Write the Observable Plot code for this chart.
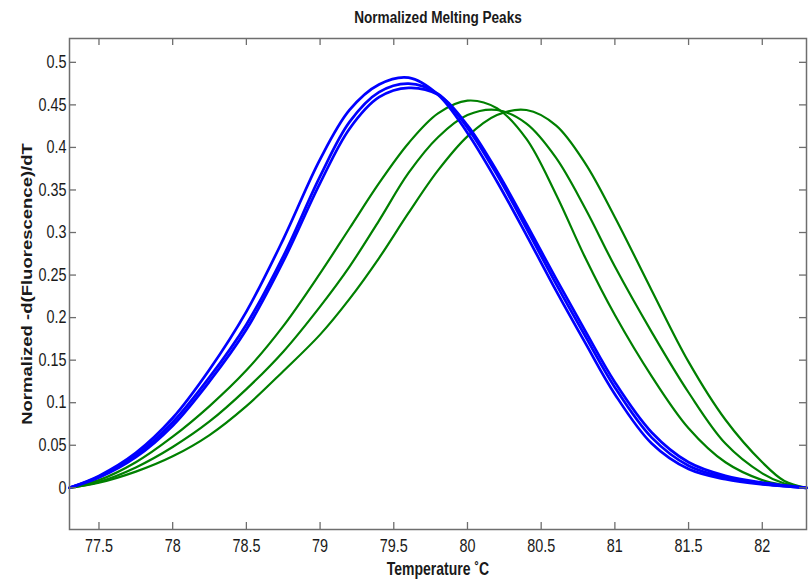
<!DOCTYPE html>
<html>
<head>
<meta charset="utf-8">
<script src="https://cdn.jsdelivr.net/npm/d3@7"></script>
<script src="https://cdn.jsdelivr.net/npm/@observablehq/plot@0.6"></script>
<style>
  html, body { margin: 0; padding: 0; background: #ffffff; }
  #chart { width: 810px; height: 580px; }
</style>
</head>
<body>
<div id="chart"></div>
<script>
// ---- Data ----
const temperature = [77.3, 77.5, 77.75, 78, 78.25, 78.5, 78.75, 79, 79.2, 79.4, 79.6, 79.8, 80, 80.2, 80.4, 80.6, 80.8, 81, 81.25, 81.5, 81.75, 82, 82.15, 82.3];

const blueA  = [0, 0.014, 0.041, 0.082, 0.139, 0.207, 0.292, 0.386, 0.444, 0.474, 0.482, 0.462, 0.417, 0.360, 0.297, 0.232, 0.170, 0.110, 0.052, 0.022, 0.010, 0.004, 0.002, 0];
const blueB  = [0, 0.013, 0.038, 0.077, 0.130, 0.192, 0.272, 0.366, 0.430, 0.465, 0.475, 0.463, 0.423, 0.368, 0.305, 0.240, 0.178, 0.118, 0.059, 0.026, 0.012, 0.005, 0.002, 0];
const blueC  = [0, 0.012, 0.036, 0.073, 0.125, 0.186, 0.266, 0.358, 0.422, 0.459, 0.470, 0.462, 0.426, 0.372, 0.310, 0.246, 0.184, 0.124, 0.065, 0.030, 0.014, 0.006, 0.003, 0];
const green1 = [0, 0.009, 0.030, 0.060, 0.096, 0.138, 0.190, 0.252, 0.305, 0.358, 0.405, 0.440, 0.455, 0.446, 0.410, 0.345, 0.270, 0.203, 0.131, 0.070, 0.030, 0.009, 0.003, 0];
const green2 = [0, 0.007, 0.024, 0.048, 0.078, 0.116, 0.160, 0.213, 0.260, 0.314, 0.370, 0.412, 0.438, 0.444, 0.428, 0.388, 0.328, 0.260, 0.183, 0.112, 0.052, 0.017, 0.005, 0];
const green3 = [0, 0.006, 0.019, 0.037, 0.062, 0.096, 0.137, 0.180, 0.222, 0.270, 0.323, 0.373, 0.413, 0.438, 0.444, 0.426, 0.381, 0.318, 0.232, 0.148, 0.080, 0.030, 0.008, 0];

const xTicks = [77.5, 78, 78.5, 79, 79.5, 80, 80.5, 81, 81.5, 82];
const yTicks = [0, 0.05, 0.1, 0.15, 0.2, 0.25, 0.3, 0.35, 0.4, 0.45, 0.5];

const titleText = "Normalized Melting Peaks";
const xLabelText = "Temperature \u02DAC";
const yLabelText = "Normalized -d(Fluorescence)/dT";

// ---- Build table ----
const seriesList = [
  {name: "green1", group: "green", values: green1},
  {name: "green2", group: "green", values: green2},
  {name: "green3", group: "green", values: green3},
  {name: "blueA", group: "blue", values: blueA},
  {name: "blueB", group: "blue", values: blueB},
  {name: "blueC", group: "blue", values: blueC}
];
const rows = seriesList.flatMap(s => s.values.map((v, i) => ({temp: temperature[i], value: v, name: s.name, group: s.group})));

const W = 810, H = 580, ML = 69, MR = 4, MT = 38, MB = 51;
const frameW = W - ML - MR, frameH = H - MT - MB;
const tickLen = 7;
const axisColor = "#6e6e6e";

const chart = Plot.plot({
  width: W,
  height: H,
  marginLeft: ML,
  marginRight: MR,
  marginTop: MT,
  marginBottom: MB,
  x: {domain: [77.3, 82.3]},
  y: {domain: [-0.049, 0.528]},
  style: {fontFamily: "'Liberation Sans', Arial, sans-serif", fontSize: "18px", color: "#1a1a1a", background: "#ffffff", overflow: "visible"},
  marks: [
    Plot.line(rows.filter(d => d.group === "green"), {x: "temp", y: "value", z: "name", stroke: "#008000", strokeWidth: 2.2, curve: "catmull-rom"}),
    Plot.line(rows.filter(d => d.group === "blue"), {x: "temp", y: "value", z: "name", stroke: "#0000ff", strokeWidth: 2.7, curve: "catmull-rom"}),
    // inward ticks on all four sides (MATLAB box style)
    Plot.tickY(yTicks, {y: d => d, insetRight: frameW - tickLen, stroke: axisColor, strokeWidth: 1.3}),
    Plot.tickY(yTicks, {y: d => d, insetLeft: frameW - tickLen, stroke: axisColor, strokeWidth: 1.3}),
    Plot.tickX(xTicks, {x: d => d, insetTop: frameH - tickLen, stroke: axisColor, strokeWidth: 1.3}),
    Plot.tickX(xTicks, {x: d => d, insetBottom: frameH - tickLen, stroke: axisColor, strokeWidth: 1.3}),
    Plot.frame({stroke: axisColor, strokeWidth: 1.5}),
    Plot.axisY({ticks: yTicks, tickSize: 0, tickPadding: 3, tickFormat: d => String(d), label: null}),
    Plot.axisX({ticks: xTicks, tickSize: 0, tickPadding: 10, tickFormat: d => String(d), label: null}),
    Plot.text([titleText], {frameAnchor: "top", dy: -16, lineAnchor: "bottom", fontWeight: "bold", fontSize: 17}),
    Plot.text([xLabelText], {frameAnchor: "bottom", dy: 45, lineAnchor: "bottom", fontWeight: "bold", fontSize: 17.5}),
    Plot.text([yLabelText], {frameAnchor: "left", dx: -42, rotate: -90, textAnchor: "middle", lineAnchor: "middle", fontWeight: "bold", fontSize: 18.5})
  ]
});

// The reference figure's lettering is horizontally condensed; squeeze each label around its own anchor.
chart.querySelectorAll("text").forEach(t => {
  const tr = t.getAttribute("transform") || "";
  if (tr.includes("rotate")) t.setAttribute("transform", `${tr} scale(1,0.8)`);
  else t.setAttribute("transform", `${tr} scale(0.8,1)`);
});

document.getElementById("chart").appendChild(chart);
</script>
</body>
</html>
